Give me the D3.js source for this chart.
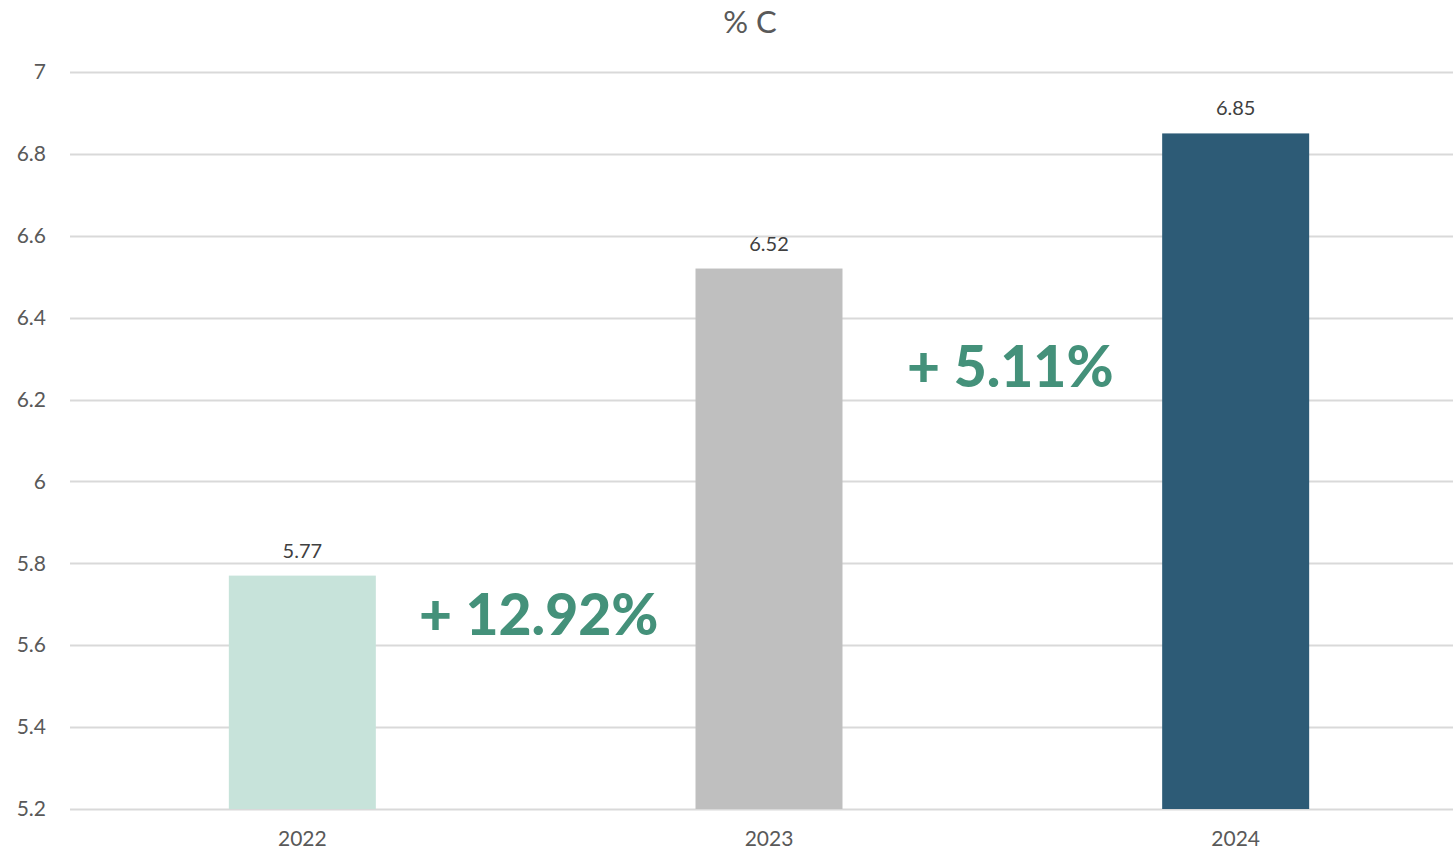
<!DOCTYPE html>
<html>
<head>
<meta charset="utf-8">
<script src="https://cdn.jsdelivr.net/npm/d3@7"></script>
<style>
  body { margin: 0; background: #fff; }
  text { font-family: Lato, "Noto Sans", sans-serif; }
</style>
</head>
<body>
<script>
// chart data
var years = ['2022', '2023', '2024'];
var values = [5.77, 6.52, 6.85];
var barColors = ['#c7e3da', '#bfbfbf', '#2d5b76'];
var yTicks = [5.2, 5.4, 5.6, 5.8, 6, 6.2, 6.4, 6.6, 6.8, 7];
var changes = ['+ 12.92%', '+ 5.11%'];
var title = '% C';

var width = 1453, height = 853;
var margin = { top: 72, left: 69, right: -16, bottom: 44 };

var svg = d3.select('body').append('svg')
    .attr('width', width)
    .attr('height', height);

var x = d3.scaleBand()
    .domain(years)
    .range([margin.left, width - margin.right])
    .paddingInner(0)
    .paddingOuter(0);

var y = d3.scaleLinear()
    .domain([5.2, 7])
    .range([height - margin.bottom, margin.top]);

var barW = x.bandwidth() * 0.315;

// gridlines
svg.append('g')
    .selectAll('line')
    .data(yTicks)
    .enter().append('line')
    .attr('x1', 70)
    .attr('x2', width)
    .attr('y1', function (d) { return Math.round(y(d)) + 0.5; })
    .attr('y2', function (d) { return Math.round(y(d)) + 0.5; })
    .attr('stroke', '#d9d9d9')
    .attr('stroke-width', 2);

// y axis labels
var yAxis = d3.axisLeft(y).tickValues(yTicks).tickSize(0).tickPadding(0)
    .tickFormat(function (d) { return d3.format('~g')(d); });
svg.append('g')
    .attr('transform', 'translate(46,0)')
    .call(yAxis)
    .call(function (g) { g.select('.domain').remove(); })
    .selectAll('text')
    .attr('font-family', 'Lato, "Noto Sans", sans-serif')
    .attr('font-size', 21)
    .attr('fill', '#595959');

// bars
svg.append('g')
    .selectAll('rect')
    .data(years)
    .enter().append('rect')
    .attr('x', function (d) { return x(d) + x.bandwidth() / 2 - barW / 2; })
    .attr('width', barW)
    .attr('y', function (d, i) { return y(values[i]); })
    .attr('height', function (d, i) { return y(5.2) - y(values[i]); })
    .attr('fill', function (d, i) { return barColors[i]; });

// value labels
svg.append('g')
    .selectAll('text')
    .data(years)
    .enter().append('text')
    .attr('x', function (d) { return x(d) + x.bandwidth() / 2; })
    .attr('y', function (d, i) { return y(values[i]) - 18; })
    .attr('text-anchor', 'middle')
    .attr('font-size', 20)
    .attr('fill', '#404040')
    .text(function (d, i) { return values[i]; });

// x axis labels
var xAxis = d3.axisBottom(x).tickSize(0).tickPadding(0);
svg.append('g')
    .attr('transform', 'translate(0,' + (y(5.2) + 22) + ')')
    .call(xAxis)
    .call(function (g) { g.select('.domain').remove(); })
    .selectAll('text')
    .attr('font-family', 'Lato, "Noto Sans", sans-serif')
    .attr('font-size', 21)
    .attr('fill', '#595959');

// title
svg.append('text')
    .attr('x', 750)
    .attr('y', 33)
    .attr('text-anchor', 'middle')
    .attr('font-size', 31)
    .attr('fill', '#595959')
    .text(title);

// change annotations, placed between bars
svg.append('g')
    .selectAll('text')
    .data(changes)
    .enter().append('text')
    .attr('x', function (d, i) { return (x(years[i]) + x(years[i + 1])) / 2 + x.bandwidth() / 2 + [3, 8][i]; })
    .attr('y', function (d, i) { return y([5.625, 6.23][i]); })
    .attr('text-anchor', 'middle')
    .attr('font-size', 57)
    .attr('font-weight', 900)
    .attr('fill', '#44917a')
    .text(function (d) { return d; });
</script>
</body>
</html>
